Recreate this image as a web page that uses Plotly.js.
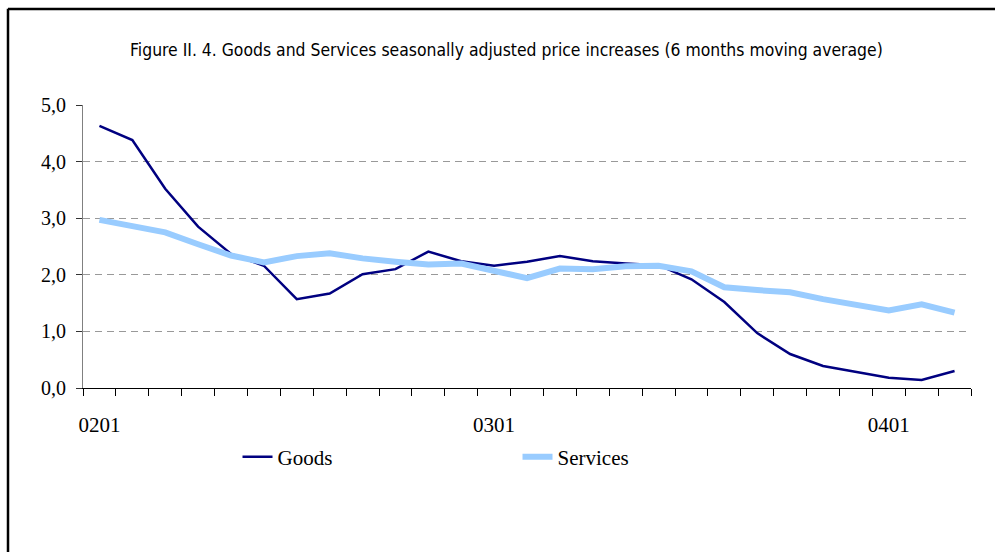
<!DOCTYPE html>
<html>
<head>
<meta charset="utf-8">
<script src="https://cdn.plot.ly/plotly-3.0.1.min.js"></script>
<style>
html, body { margin:0; padding:0; background:#fff; }
#chart { width:995px; height:552px; }
</style>
</head>
<body>
<div id="chart"></div>
<script>
// Months (YYMM)
const months = ["0201","0202","0203","0204","0205","0206","0207","0208","0209","0210","0211","0212",
                "0301","0302","0303","0304","0305","0306","0307","0308","0309","0310","0311","0312",
                "0401","0402","0403"];
// Only these months carry a visible label
const labeledMonths = ["0201","0301","0401"];
const goods = [4.63,4.38,3.52,2.85,2.37,2.16,1.57,1.67,2.01,2.10,2.41,2.24,
               2.16,2.23,2.33,2.24,2.20,2.17,1.92,1.52,0.97,0.60,0.39,0.29,
               0.18,0.14,0.30];
const services = [2.97,2.86,2.75,2.54,2.34,2.22,2.33,2.38,2.29,2.23,2.18,2.20,
                  2.07,1.94,2.11,2.10,2.15,2.16,2.06,1.78,1.73,1.69,1.57,1.46,
                  1.37,1.48,1.33];
const yTicks = [0,1,2,3,4,5];

const tickText = months.map(m => labeledMonths.includes(m) ? m : "");

const serif = "Liberation Serif, Times New Roman, serif";
const narrow = "Liberation Sans Narrow, Arial Narrow, DejaVu Sans Condensed, sans-serif";

const traces = [
  {x: months, y: goods, name: "Goods", type: "scatter", mode: "lines",
   line: {color: "#000080", width: 2.5}},
  {x: months, y: services, name: "Services", type: "scatter", mode: "lines",
   line: {color: "#99CCFF", width: 6}}
];

const layout = {
  width: 995, height: 552,
  margin: {l: 83, r: 24, t: 105, b: 164},
  paper_bgcolor: "#fff", plot_bgcolor: "#fff",
  showlegend: true,
  title: {text: "Figure II. 4. Goods and Services seasonally adjusted price increases (6 months moving average)",
          font: {family: narrow, size: 17.4, color: "#000"},
          x: 0.509, xref: "container", xanchor: "center",
          y: 0.909, yref: "container", yanchor: "middle"},
  separators: ", ",
  xaxis: {
    type: "category", categoryorder: "array", categoryarray: months,
    range: [-0.5, months.length - 0.5],
    tickmode: "array", tickvals: months, ticktext: tickText, tickangle: 0,
    tickson: "boundaries", ticks: "outside", ticklen: 7, tickcolor: "#000", tickwidth: 1,
    showline: true, linecolor: "#000", linewidth: 1,
    showgrid: false, zeroline: false,
    ticklabelstandoff: 18,
    tickfont: {family: serif, size: 21, color: "#000"},
    fixedrange: true
  },
  yaxis: {
    range: [0, 5], tickmode: "array", tickvals: yTicks, tickformat: ".1f",
    ticks: "outside", ticklen: 6, tickcolor: "#333", tickwidth: 1,
    showline: true, linecolor: "#808080", linewidth: 1,
    showgrid: true, gridcolor: "#999", griddash: "7px,5px", gridwidth: 1,
    zeroline: false,
    ticklabelstandoff: 6,
    tickfont: {family: serif, size: 20, color: "#000"},
    fixedrange: true
  },
  legend: {
    orientation: "h", x: 0.174, xanchor: "left", y: -0.244, yanchor: "middle",
    font: {family: serif, size: 21, color: "#000"},
    entrywidth: 235, entrywidthmode: "pixels",
    bgcolor: "rgba(0,0,0,0)", itemclick: false, itemdoubleclick: false
  },
  shapes: [
    {type: "line", xref: "paper", yref: "paper", x0: (8-83)/888, x1: (8-83)/888, y0: 1.34, y1: -0.6,
     line: {color: "#000", width: 2.5}},
    {type: "line", xref: "paper", yref: "paper", x0: (8-83)/888, x1: 1.1, y0: (388-9)/283, y1: (388-9)/283,
     line: {color: "#000", width: 2.5}}
  ]
};

Plotly.newPlot("chart", traces, layout, {displayModeBar: false, staticPlot: true});
</script>
</body>
</html>
